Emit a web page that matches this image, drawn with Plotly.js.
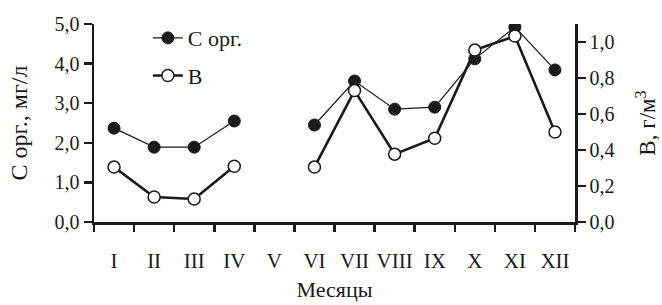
<!DOCTYPE html>
<html>
<head>
<meta charset="utf-8">
<script src="https://cdn.plot.ly/plotly-3.0.1.min.js"></script>
<style>html,body{margin:0;padding:0;background:#fff;}#chart{width:662px;height:305px;}</style>
</head>
<body>
<div id="chart"></div>
<script>
var months = ["I","II","III","IV","V","VI","VII","VIII","IX","X","XI","XII"];
var corg = [2.37, 1.89, 1.89, 2.55, null, 2.45, 3.56, 2.85, 2.9, 4.12, 4.92, 3.84];
var bVals = [0.305, 0.139, 0.128, 0.31, null, 0.305, 0.73, 0.377, 0.465, 0.955, 1.033, 0.5];
var leftTicks = [0, 1, 2, 3, 4, 5];
var leftTickText = ["0,0","1,0","2,0","3,0","4,0","5,0"];
var rightTicks = [0, 0.2, 0.4, 0.6, 0.8, 1.0];
var rightTickText = ["0,0","0,2","0,4","0,6","0,8","1,0"];

var fontFam = "Liberation Serif";
var ink = "#1a1a1a";

var traces = [
  {
    x: months, y: corg, name: "С орг.", type: "scatter", mode: "lines+markers",
    connectgaps: false, legendgroup: "a",
    line: {color: ink, width: 1.2},
    marker: {symbol: "circle", size: 12, color: ink, line: {color: ink, width: 1}}
  },
  {
    x: months, y: bVals, name: "В", type: "scatter", mode: "lines+markers",
    connectgaps: false, yaxis: "y2", legendgroup: "b",
    line: {color: ink, width: 2.6},
    marker: {symbol: "circle", size: 12, color: "#ffffff", line: {color: ink, width: 1.5}}
  }
];

var layout = {
  width: 662, height: 305,
  margin: {l: 94, r: 87, t: 24, b: 83, pad: 0},
  paper_bgcolor: "#ffffff", plot_bgcolor: "#ffffff",
  font: {family: fontFam, size: 20, color: ink},
  showlegend: true,
  legend: {
    x: 0.112, y: 1.035, xanchor: "left", yanchor: "top",
    bgcolor: "rgba(0,0,0,0)", font: {family: fontFam, size: 22, color: ink},
    traceorder: "grouped", tracegroupgap: 6, itemwidth: 30
  },
  xaxis: {
    type: "category", range: [-0.5, 11.5],
    showline: true, linecolor: ink, linewidth: 2.5,
    ticks: "outside", tickson: "boundaries", ticklen: 7, tickwidth: 2.5, tickcolor: ink,
    tickangle: 0, ticklabelstandoff: 18,
    showgrid: false, zeroline: false,
    tickfont: {family: fontFam, size: 21, color: ink},
    title: {text: "Месяцы", font: {family: fontFam, size: 22, color: ink}, standoff: 10}
  },
  yaxis: {
    range: [0, 5.0], tickvals: leftTicks, ticktext: leftTickText,
    showline: true, linecolor: ink, linewidth: 2.5,
    ticks: "outside", ticklen: 8, tickwidth: 2.5, tickcolor: ink,
    showgrid: false, zeroline: false,
    tickfont: {family: fontFam, size: 20, color: ink},
    title: {text: "С орг., мг/л", font: {family: fontFam, size: 24, color: ink}, standoff: 20}
  },
  yaxis2: {
    overlaying: "y", side: "right", range: [0, 1.1],
    tickvals: rightTicks, ticktext: rightTickText,
    showline: true, linecolor: ink, linewidth: 2.5,
    ticks: "outside", ticklen: 8, tickwidth: 2.5, tickcolor: ink,
    showgrid: false, zeroline: false,
    tickfont: {family: fontFam, size: 20, color: ink},
    title: {text: "В, г/м<sup>3</sup>", font: {family: fontFam, size: 23, color: ink}, standoff: 26}
  }
};

Plotly.newPlot("chart", traces, layout, {displayModeBar: false, staticPlot: true});
</script>
</body>
</html>
